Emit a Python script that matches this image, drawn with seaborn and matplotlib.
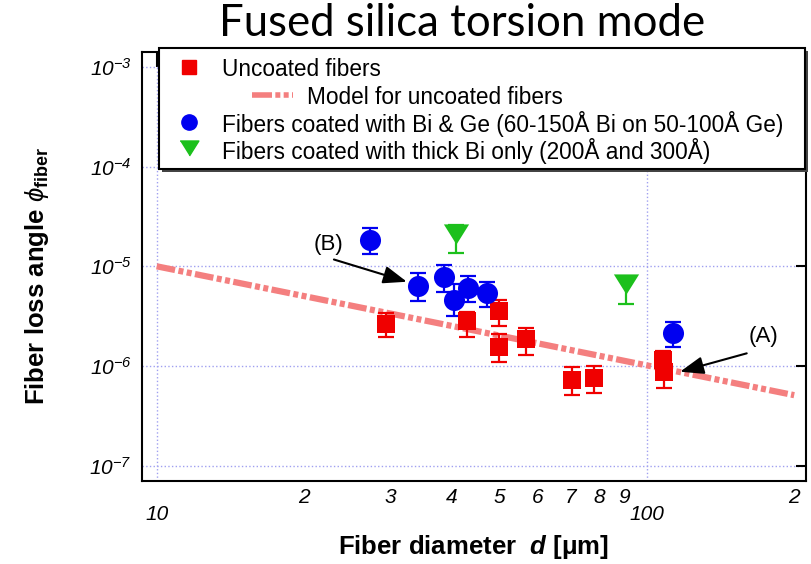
import numpy as np
import pandas as pd
import seaborn as sns
import matplotlib
matplotlib.use("Agg")
import matplotlib.pyplot as plt
from matplotlib.lines import Line2D
from matplotlib.patches import Rectangle
from matplotlib.ticker import FixedLocator, FixedFormatter

# uncoated fibers (red squares), d in um, loss angle with error bar bounds
unc_d = [29.4, 42.9, 50.0, 50.0, 56.7, 70.3, 78.2, 108.0, 108.5]
unc_phi = [2.65e-6, 2.80e-6, 3.55e-6, 1.56e-6, 1.85e-6, 7.2e-7, 7.5e-7, 1.15e-6, 8.7e-7]
unc_lo = [1.97e-6, 1.97e-6, 2.52e-6, 1.10e-6, 1.29e-6, 5.1e-7, 5.4e-7, 9.0e-7, 6.0e-7]
unc_hi = [3.4e-6, 3.5e-6, 4.6e-6, 2.1e-6, 2.42e-6, 9.8e-7, 1.0e-6, 1.4e-6, 1.1e-6]

# Bi & Ge coated (blue circles)
coat_d = [27.3, 34.1, 38.6, 40.4, 43.1, 47.2, 113.3]
coat_phi = [1.84e-5, 6.3e-6, 7.9e-6, 4.6e-6, 6.0e-6, 5.4e-6, 2.16e-6]
coat_lo = [1.32e-5, 4.52e-6, 5.56e-6, 3.21e-6, 4.4e-6, 3.9e-6, 1.54e-6]
coat_hi = [2.4e-5, 8.5e-6, 1.03e-5, 6.6e-6, 8.0e-6, 7.0e-6, 2.78e-6]

# thick Bi only (green triangles)
thick_d = [40.9, 90.6]
thick_phi = [2.1e-5, 6.6e-6]
thick_lo = [1.37e-5, 4.16e-6]
thick_hi = [2.6e-5, 7.9e-6]

# model for uncoated fibers
model_d = [10, 200]
model_phi = [1.0e-5, 5.1e-7]

RED = "#F00000"
BLUE = "#0000F0"
GREEN = "#1CC01C"
MODEL = "#F47F7F"
tri = [(-1.25, 1), (1.25, 1), (0, -1)]

sns.set_theme(style="white")
plt.rcParams["font.family"] = ["Liberation Sans", "DejaVu Sans"]
plt.rcParams["mathtext.fontset"] = "custom"
plt.rcParams["mathtext.rm"] = "Liberation Sans"
plt.rcParams["mathtext.it"] = "Liberation Sans:italic"
plt.rcParams["mathtext.bf"] = "Liberation Sans:bold"
plt.rcParams["mathtext.bfit"] = "Liberation Sans:italic:bold"
plt.rcParams["text.color"] = "black"
plt.rcParams["axes.labelcolor"] = "black"
plt.rcParams["xtick.color"] = "black"
plt.rcParams["ytick.color"] = "black"

fig = plt.figure(figsize=(8.12, 5.64), dpi=100)
ax = fig.add_axes([0.1745, 0.1472, 0.8181, 0.7606])
ax.set_xscale("log")
ax.set_yscale("log")

ax.plot(model_d, model_phi, color=MODEL, lw=4.5,
        ls=(0, (3.0, 0.55, 0.8, 0.55, 0.8, 0.55)), zorder=2)

def errs(y, lo, hi):
    y = np.array(y)
    return [y - np.array(lo), np.array(hi) - y]

ax.errorbar(unc_d, unc_phi, yerr=errs(unc_phi, unc_lo, unc_hi), fmt="none",
            ecolor=RED, elinewidth=1.6, capsize=6, capthick=1.6, zorder=3)
ax.errorbar(coat_d, coat_phi, yerr=errs(coat_phi, coat_lo, coat_hi), fmt="none",
            ecolor=BLUE, elinewidth=1.6, capsize=5.5, capthick=1.6, zorder=3)
ax.errorbar(thick_d, thick_phi, yerr=errs(thick_phi, thick_lo, thick_hi), fmt="none",
            ecolor=GREEN, elinewidth=1.6, capsize=5.5, capthick=1.6, zorder=3)

sns.scatterplot(x=unc_d, y=unc_phi, marker="s", s=150, color=RED, linewidth=0, ax=ax, zorder=4)
sns.scatterplot(x=coat_d, y=coat_phi, marker="o", s=230, color=BLUE, linewidth=0, ax=ax, zorder=4)
sns.scatterplot(x=thick_d, y=thick_phi, marker=tri, s=330, color=GREEN, linewidth=0, ax=ax, zorder=4)

ax.set_xlim(9.32, 211.4)
ax.set_ylim(7.03e-8, 1.41e-3)

# ticks
ax.xaxis.set_major_locator(FixedLocator([10, 100]))
ax.xaxis.set_major_formatter(FixedFormatter(["10", "100"]))
minor_x = [12, 14, 16, 18, 20, 30, 40, 50, 60, 70, 80, 90, 120, 140, 160, 180, 200]
minor_lab = ["", "", "", "", "2", "3", "4", "5", "6", "7", "8", "9", "", "", "", "", "2"]
ax.xaxis.set_minor_locator(FixedLocator(minor_x))
ax.xaxis.set_minor_formatter(FixedFormatter(minor_lab))
ydec = [1e-7, 1e-6, 1e-5, 1e-4, 1e-3]
ax.yaxis.set_major_locator(FixedLocator(ydec))
ax.yaxis.set_major_formatter(FixedFormatter([r"$\mathdefault{10^{-%d}}$" % k for k in [7, 6, 5, 4, 3]]))
ax.yaxis.set_minor_locator(FixedLocator([]))

ax.tick_params(axis="x", which="major", direction="in", length=11, width=1.5,
               pad=17, labelsize=15, top=True)
ax.tick_params(axis="x", which="minor", direction="in", length=5, width=1.5,
               pad=5, labelsize=15, top=True)
ax.tick_params(axis="y", which="major", direction="in", length=7, width=1.5,
               pad=7, labelsize=15, right=True)
for t in ax.get_xticklabels(which="both") + ax.get_yticklabels():
    t.set_fontstyle("italic")
for t, lab in zip(ax.xaxis.get_minor_ticks(), minor_lab):
    if lab == "":
        t.tick1line.set_markersize(3.5)
        t.tick2line.set_markersize(3.5)

for s in ax.spines.values():
    s.set_color("black")
    s.set_linewidth(1.5)
ax.grid(True, which="major", color="#A0A0F0", ls=":", lw=1)
ax.grid(False, which="minor")

ax.set_xlabel(r"Fiber diameter  $\mathbfit{d}$ [μm]", fontsize=18.5, fontweight="bold")
ax.xaxis.set_label_coords(0.5, -0.122)
ax.set_ylabel(r"Fiber loss angle $\phi_{\mathbf{fiber}}$", fontsize=18.5, fontweight="bold")
ax.yaxis.label.set_va("center")
ax.yaxis.set_label_coords(-0.158, 0.478)

# annotations
ax.annotate("", xy=(32.4, 7.0e-6), xytext=(23.0, 1.17e-5),
            arrowprops=dict(arrowstyle="-|>,head_length=0.8,head_width=0.3",
                            mutation_scale=18, lw=1.5, color="black",
                            shrinkA=0, shrinkB=0), zorder=6)
ax.text(22.4, 1.64e-5, "(B)", fontsize=16, ha="center", va="center", zorder=6)
ax.annotate("", xy=(117, 8.77e-7), xytext=(160, 1.34e-6),
            arrowprops=dict(arrowstyle="-|>,head_length=0.8,head_width=0.3",
                            mutation_scale=18, lw=1.5, color="black",
                            shrinkA=0, shrinkB=0), zorder=6)
ax.text(173, 1.97e-6, "(A)", fontsize=16, ha="center", va="center", zorder=6)

# legend box drawn by hand (the model entry is indented)
W, H = 812.0, 564.0
def fx(px): return px / W
def fy(py): return 1 - py / H
x0, x1, y0, y1 = 159, 805, 48, 169
fig.add_artist(Rectangle((fx(x0 + 3), fy(y1 + 3)), fx(x1 - x0), (y1 - y0) / H,
                         transform=fig.transFigure, facecolor="#444444",
                         edgecolor="none", zorder=10))
fig.add_artist(Rectangle((fx(x0), fy(y1)), fx(x1 - x0), (y1 - y0) / H,
                         transform=fig.transFigure, facecolor="white",
                         edgecolor="black", lw=1.5, zorder=11))
rows = [66.7, 95, 121.7, 148.3]
fig.add_artist(Line2D([fx(189)], [fy(rows[0])], marker="s", ms=10.5, color=RED, ls="none",
                      transform=fig.transFigure, zorder=12))
fig.add_artist(Line2D([fx(252), fx(293)], [fy(rows[1])] * 2, color=MODEL, lw=4,
                      ls=(0, (3.6, 0.6, 0.9, 0.6, 0.9, 0.6)),
                      transform=fig.transFigure, zorder=12))
fig.add_artist(Line2D([fx(189)], [fy(rows[2])], marker="o", ms=11, color=BLUE, ls="none",
                      transform=fig.transFigure, zorder=12))
fig.add_artist(Line2D([fx(189)], [fy(rows[3])], marker=tri, ms=13.5, color=GREEN, ls="none",
                      transform=fig.transFigure, zorder=12))
labels = ["Uncoated fibers", "Model for uncoated fibers",
          "Fibers coated with Bi & Ge (60-150Å Bi on 50-100Å Ge)",
          "Fibers coated with thick Bi only (200Å and 300Å)"]
lx = [222, 307, 222, 222]
for lab, x, y in zip(labels, lx, rows):
    fig.text(fx(x), fy(y), lab, fontsize=16.3, va="center_baseline", ha="left", zorder=12)

fig.text(fx(462), fy(23), "Fused silica torsion mode", fontsize=31.5,
         family=["Lato", "DejaVu Sans"], ha="center", va="center")

fig.savefig("out.png", dpi=100)
